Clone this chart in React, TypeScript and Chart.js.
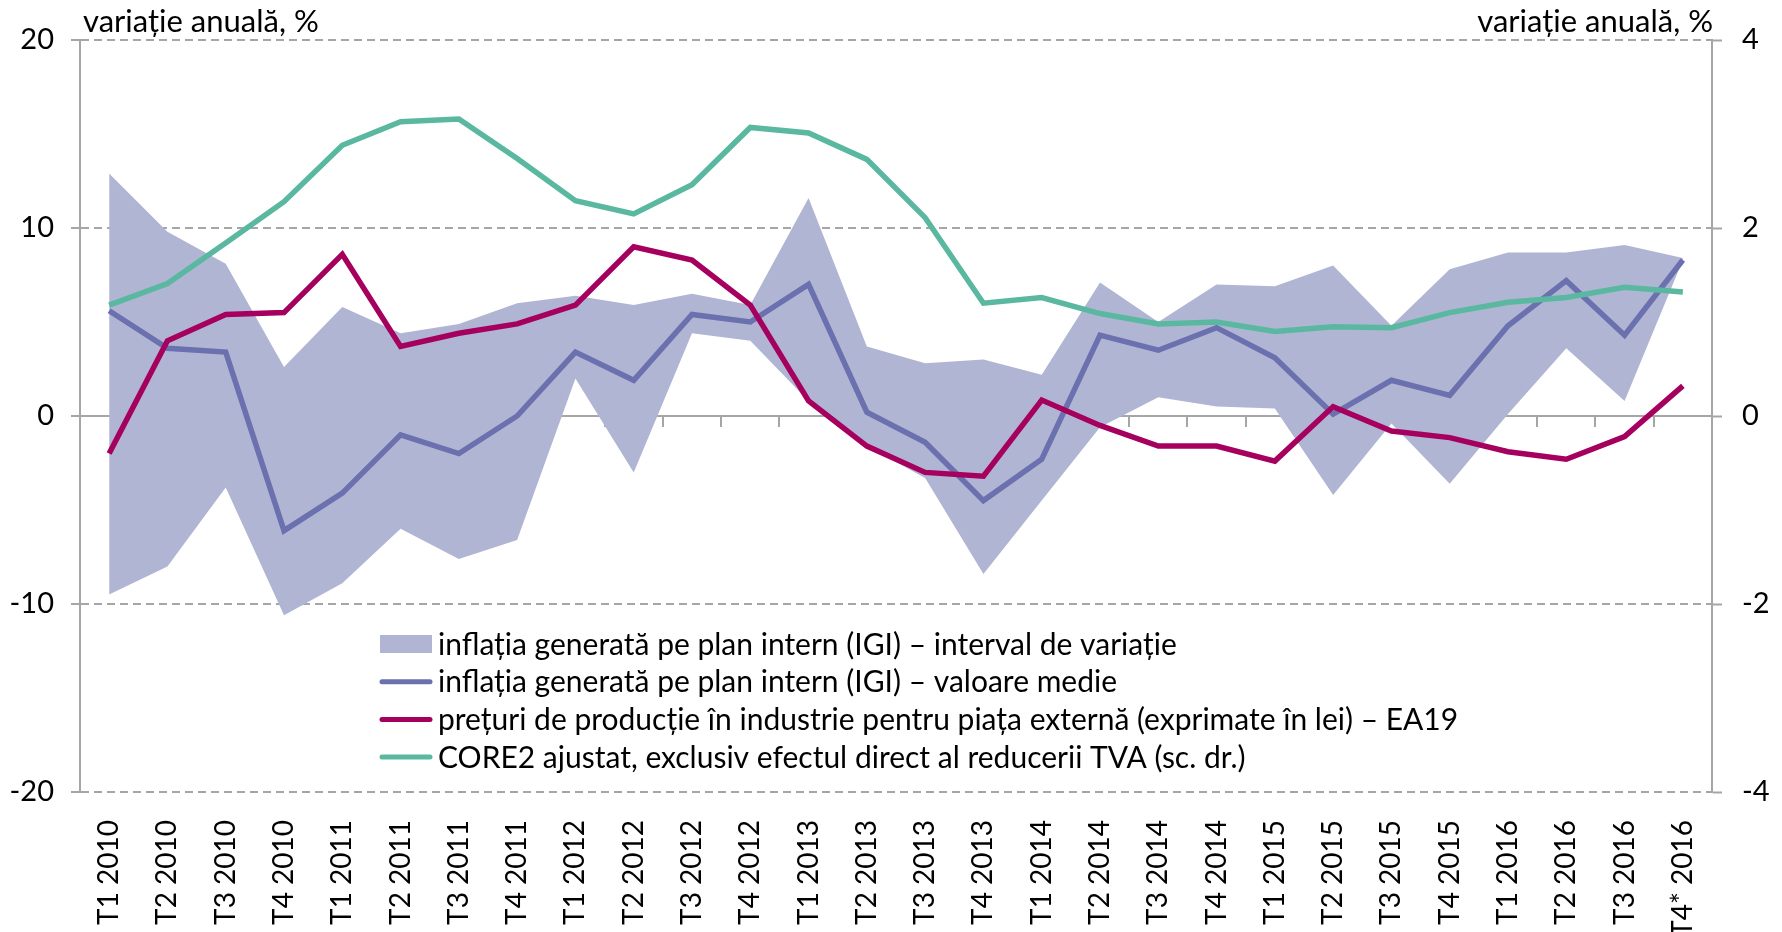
import React, { useEffect, useRef } from "react";
import { Chart, registerables } from "chart.js";

Chart.register(...registerables);

const categories = [
  "T1 2010", "T2 2010", "T3 2010", "T4 2010",
  "T1 2011", "T2 2011", "T3 2011", "T4 2011",
  "T1 2012", "T2 2012", "T3 2012", "T4 2012",
  "T1 2013", "T2 2013", "T3 2013", "T4 2013",
  "T1 2014", "T2 2014", "T3 2014", "T4 2014",
  "T1 2015", "T2 2015", "T3 2015", "T4 2015",
  "T1 2016", "T2 2016", "T3 2016", "T4* 2016",
];

const igiRangeLow = [
  -9.5, -8.0, -3.8, -10.6, -8.9, -6.0, -7.6, -6.6,
  2.0, -3.0, 4.4, 4.0, 0.8, -1.6, -3.3, -8.4,
  -4.5, -0.6, 1.0, 0.5, 0.4, -4.2, -0.4, -3.6,
  0.1, 3.6, 0.8, 8.3,
];

const igiRangeHigh = [
  12.9, 9.8, 8.1, 2.6, 5.8, 4.4, 4.9, 6.0,
  6.4, 5.9, 6.5, 5.9, 11.6, 3.7, 2.8, 3.0,
  2.2, 7.1, 5.0, 7.0, 6.9, 8.0, 4.8, 7.8,
  8.7, 8.7, 9.1, 8.4,
];

const igiMean = [
  5.6, 3.6, 3.4, -6.1, -4.1, -1.0, -2.0, 0.0,
  3.4, 1.9, 5.4, 5.0, 7.0, 0.2, -1.4, -4.5,
  -2.3, 4.3, 3.5, 4.7, 3.1, 0.1, 1.9, 1.1,
  4.8, 7.2, 4.3, 8.3,
];

const ppiExport = [
  -2.0, 4.0, 5.4, 5.5, 8.6, 3.7, 4.4, 4.9,
  5.9, 9.0, 8.3, 5.9, 0.8, -1.6, -3.0, -3.2,
  0.85, -0.5, -1.6, -1.6, -2.4, 0.5, -0.8, -1.15,
  -1.9, -2.3, -1.1, 1.6,
];

const core2Adj = [
  1.18, 1.41, 1.84, 2.28, 2.88, 3.13, 3.16, 2.74,
  2.29, 2.15, 2.46, 3.07, 3.01, 2.73, 2.11, 1.2,
  1.26, 1.09, 0.98, 1.0, 0.9, 0.95, 0.94, 1.1,
  1.21, 1.26, 1.37, 1.32,
];

const seriesNames = [
  "inflația generată pe plan intern (IGI) – interval de variație",
  "inflația generată pe plan intern (IGI) – valoare medie",
  "prețuri de producție în industrie pentru piața externă (exprimate în lei) – EA19",
  "CORE2 ajustat, exclusiv efectul direct al reducerii TVA (sc. dr.)",
];

const axisTitle = "variație anuală, %";

const BAND = "#B1B5D4";
const BLUE = "#6B70AE";
const RED = "#A6005F";
const GREEN = "#5BB8A0";
const GRID = "#A6A6A6";
const FONT = "Lato, 'Open Sans', sans-serif";
const TICK_FS = 29;
const XTICK_FS = 28;
const TEXT_FS = 30;

const titlesPlugin = {
  id: "axisTitles",
  afterDraw(chart: any) {
    const { ctx, chartArea } = chart;
    ctx.save();
    ctx.font = `31px ${FONT}`;
    ctx.fillStyle = "#000";
    ctx.textBaseline = "alphabetic";
    ctx.textAlign = "left";
    ctx.fillText(axisTitle, chartArea.left + 3, chartArea.top - 8);
    ctx.textAlign = "right";
    ctx.fillText(axisTitle, chartArea.right + 1, chartArea.top - 8);
    ctx.restore();
  },
};

const legendPlugin = {
  id: "insideLegend",
  afterDraw(chart: any) {
    const { ctx, chartArea } = chart;
    const items = [
      { text: seriesNames[0], kind: "box", color: BAND },
      { text: seriesNames[1], kind: "line", color: BLUE },
      { text: seriesNames[2], kind: "line", color: RED },
      { text: seriesNames[3], kind: "line", color: GREEN },
    ];
    const x0 = chartArea.left + 300;
    const symW = 52;
    const y0 = chartArea.top + 604;
    const rowH = 37.7;
    ctx.save();
    ctx.font = `${TEXT_FS}px ${FONT}`;
    ctx.textBaseline = "middle";
    ctx.textAlign = "left";
    items.forEach((it, i) => {
      const y = y0 + i * rowH;
      if (it.kind === "box") {
        ctx.fillStyle = it.color;
        ctx.fillRect(x0, y - 9, symW, 18);
      } else {
        ctx.strokeStyle = it.color;
        ctx.lineWidth = 5;
        ctx.lineCap = "round";
        ctx.beginPath();
        ctx.moveTo(x0 + 2, y);
        ctx.lineTo(x0 + symW - 2, y);
        ctx.stroke();
      }
      ctx.fillStyle = "#000";
      ctx.fillText(it.text, x0 + symW + 6, y + 1);
    });
    ctx.restore();
  },
};

export default function App() {
  const canvasRef = useRef<HTMLCanvasElement | null>(null);

  useEffect(() => {
    const canvas = canvasRef.current;
    if (!canvas) return;
    const chart = new Chart(canvas, {
      type: "line",
      data: {
        labels: categories,
        datasets: [
          {
            label: seriesNames[1],
            data: igiMean,
            borderColor: BLUE,
            borderWidth: 5.5,
            pointRadius: 0,
            fill: false,
            tension: 0,
            yAxisID: "y",
            order: 3,
          },
          {
            label: seriesNames[2],
            data: ppiExport,
            borderColor: RED,
            borderWidth: 5.5,
            pointRadius: 0,
            fill: false,
            tension: 0,
            yAxisID: "y",
            order: 2,
          },
          {
            label: seriesNames[3],
            data: core2Adj,
            borderColor: GREEN,
            borderWidth: 5.5,
            pointRadius: 0,
            fill: false,
            tension: 0,
            yAxisID: "y1",
            order: 1,
          },
          {
            label: "low",
            data: igiRangeLow,
            borderWidth: 0,
            borderColor: "rgba(0,0,0,0)",
            pointRadius: 0,
            fill: false,
            tension: 0,
            yAxisID: "y",
            order: 5,
          },
          {
            label: seriesNames[0],
            data: igiRangeHigh,
            borderWidth: 0,
            borderColor: "rgba(0,0,0,0)",
            backgroundColor: BAND,
            pointRadius: 0,
            fill: "-1",
            tension: 0,
            yAxisID: "y",
            order: 4,
          },
        ],
      },
      options: {
        responsive: false,
        animation: false,
        layout: { padding: { top: 40, left: 0, right: 0, bottom: 0 } },
        plugins: {
          legend: { display: false },
          tooltip: { enabled: false },
          filler: { drawTime: "beforeDatasetsDraw" },
        },
        scales: {
          x: {
            type: "category",
            offset: true,
            grid: { display: false },
            border: { display: false },
            ticks: {
              color: "#000",
              font: { family: FONT, size: XTICK_FS },
              maxRotation: 90,
              minRotation: 90,
              padding: 20,
              autoSkip: false,
            },
            afterFit(scale: any) {
              scale.height = 140;
            },
          },
          xZero: {
            type: "category",
            axis: "x",
            position: { y: 0 },
            offset: true,
            grid: {
              drawOnChartArea: false,
              drawTicks: true,
              tickLength: 10,
              tickWidth: 2,
              tickColor: GRID,
              color: GRID,
              lineWidth: 2,
              offset: true,
            },
            border: { display: true, color: GRID, width: 2 },
            ticks: { display: false, autoSkip: false },
          },
          y: {
            position: "left",
            min: -20,
            max: 20,
            ticks: {
              stepSize: 10,
              color: "#000",
              font: { family: FONT, size: TICK_FS },
              padding: 17,
            },
            grid: {
              color: GRID,
              lineWidth: 2,
              tickLength: 9,
              tickWidth: 2,
              tickColor: GRID,
            },
            border: {
              display: true,
              color: GRID,
              width: 2,
              dash: (ctx: any) => (ctx.tick && ctx.tick.value === 0 ? [] : [8, 5]),
            },
            afterFit(scale: any) {
              scale.width = 80;
            },
          },
          y1: {
            position: "right",
            min: -4,
            max: 4,
            ticks: {
              stepSize: 2,
              color: "#000",
              font: { family: FONT, size: TICK_FS },
              padding: 20,
            },
            grid: {
              drawOnChartArea: false,
              tickLength: 10,
              tickWidth: 2,
              tickColor: GRID,
              color: GRID,
            },
            border: { display: true, color: GRID, width: 2 },
            afterFit(scale: any) {
              scale.width = 70;
            },
          },
        },
      },
      plugins: [titlesPlugin, legendPlugin],
    } as any);
    return () => chart.destroy();
  }, []);

  return (
    <div style={{ position: "absolute", left: 0, top: 0, width: 1782, height: 932, background: "#fff" }}>
      <canvas ref={canvasRef} width={1782} height={932} style={{ display: "block" }} />
    </div>
  );
}
